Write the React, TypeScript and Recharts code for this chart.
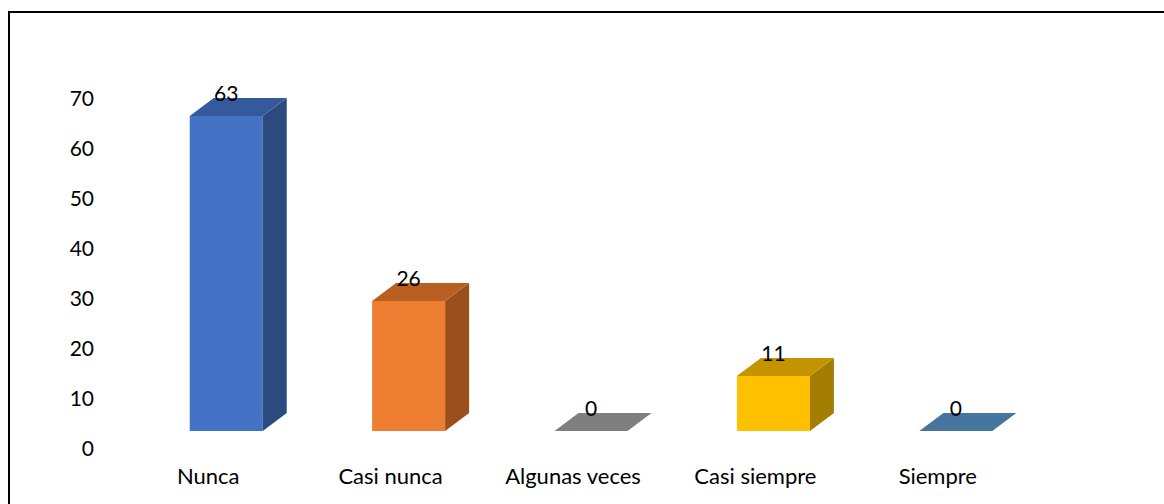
import { Bar, BarChart, Cell, LabelList, XAxis, YAxis } from "recharts"

const categories = ["Nunca", "Casi nunca", "Algunas veces", "Casi siempre", "Siempre"]
const counts = [63, 26, 0, 11, 0]
const yTicks = [0, 10, 20, 30, 40, 50, 60, 70]

// front, top, side shades per bar
const palette = [
  { front: "#4472C4", top: "#345A9B", side: "#2B4A80" },
  { front: "#ED7D31", top: "#BA5F22", side: "#9A4F1D" },
  { front: "#A5A5A5", top: "#7F7F7F", side: "#6B6B6B" },
  { front: "#FFC000", top: "#C49300", side: "#A37E00" },
  { front: "#5B9BD5", top: "#46769F", side: "#3A6386" },
]

const chartData = categories.map((name, i) => ({ name, value: counts[i], idx: i }))

const DEPTH_X = 24
const DEPTH_Y = 18
const FONT = "Lato, 'Open Sans', sans-serif"

function Box3D(props: any) {
  const { x, y, width, height, payload } = props
  const c = palette[payload.idx]
  const bottom = y + height
  const top = `M${x},${y} L${x + DEPTH_X},${y - DEPTH_Y} L${x + width + DEPTH_X},${y - DEPTH_Y} L${x + width},${y} Z`
  const side = `M${x + width},${y} L${x + width + DEPTH_X},${y - DEPTH_Y} L${x + width + DEPTH_X},${bottom - DEPTH_Y} L${x + width},${bottom} Z`
  return (
    <g>
      {height > 0 && <rect x={x} y={y} width={width} height={height} fill={c.front} />}
      {height > 0 && <path d={side} fill={c.side} />}
      <path d={top} fill={c.top} />
    </g>
  )
}

function ValueLabel(props: any) {
  const { x, y, width, value } = props
  return (
    <text x={x + width / 2} y={y - 24} textAnchor="middle" dominantBaseline="central" fontSize={21} fontFamily={FONT} fill="#000">
      {value}
    </text>
  )
}

function XTick(props: any) {
  const { x, y, payload } = props
  return (
    <text x={x - 18} y={y + 36} textAnchor="middle" dominantBaseline="central" fontSize={22} fontFamily={FONT} fill="#000">
      {payload.value}
    </text>
  )
}

function YTick(props: any) {
  const { x, y, payload } = props
  return (
    <text x={x} y={y + 16} textAnchor="end" dominantBaseline="central" fontSize={21} fontFamily={FONT} fill="#000">
      {payload.value}
    </text>
  )
}

export default function App() {
  return (
    <div style={{ position: "absolute", left: 0, top: 0, width: 1164, height: 504, background: "#fff", overflow: "hidden" }}>
      <div
        style={{
          position: "absolute",
          left: 8,
          top: 11,
          width: 1200,
          height: 600,
          borderTop: "2px solid #000",
          borderLeft: "2px solid #000",
        }}
      />
      <div style={{ position: "absolute", left: 0, top: 0 }}>
        <BarChart width={1164} height={504} data={chartData} margin={{ top: 81, right: 117, left: 0, bottom: 0 }} barCategoryGap="30%">
          <XAxis dataKey="name" height={73} tickLine={false} axisLine={false} tick={<XTick />} interval={0} />
          <YAxis
            width={135}
            domain={[0, 70]}
            ticks={yTicks}
            tickLine={false}
            axisLine={false}
            tickMargin={35}
            tick={<YTick />}
            interval={0}
          />
          <Bar dataKey="value" shape={<Box3D />} isAnimationActive={false} minPointSize={0}>
            {chartData.map((d) => (
              <Cell key={d.name} fill={palette[d.idx].front} />
            ))}
            <LabelList dataKey="value" content={<ValueLabel />} />
          </Bar>
        </BarChart>
      </div>
    </div>
  )
}
